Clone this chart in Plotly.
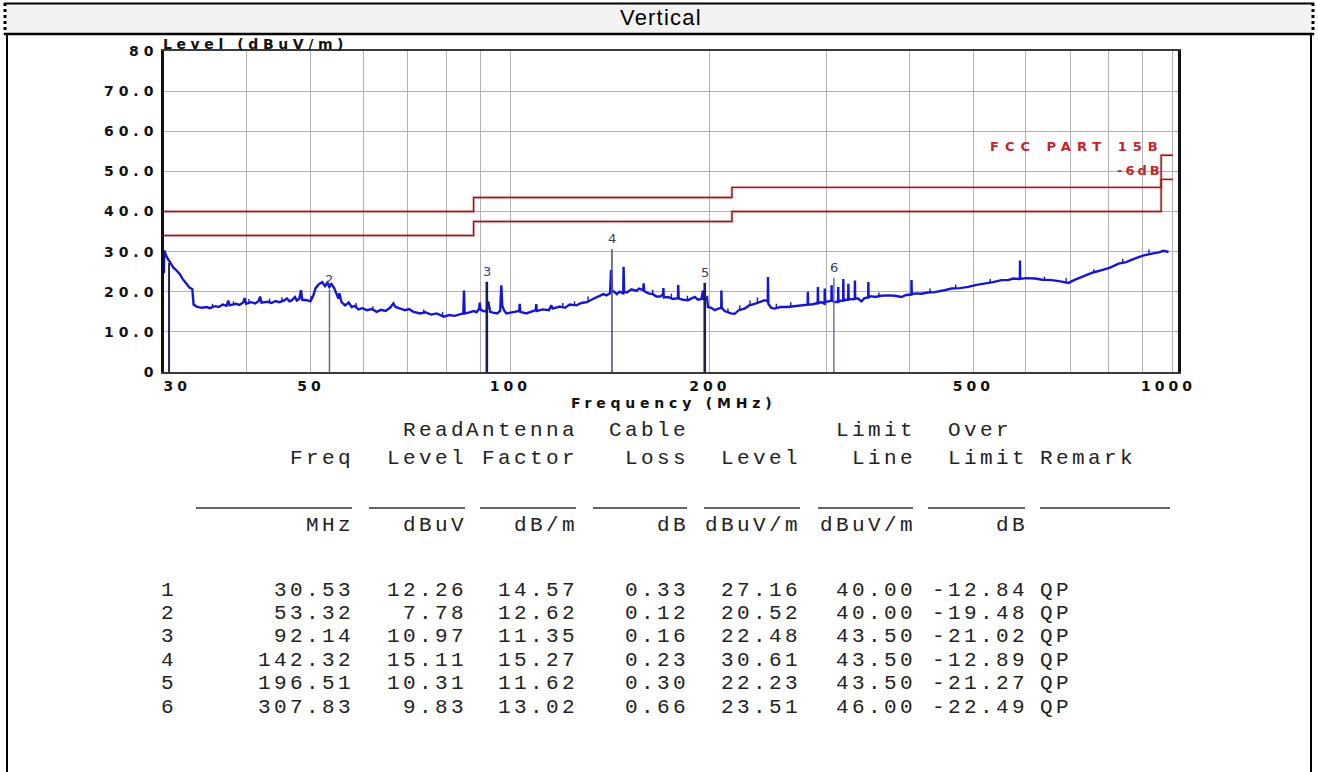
import numpy as np
import plotly.graph_objects as go

W, H = 1318, 772

# ---------------- data ----------------
trace_freq = [
    30.0, 30.02, 30.3, 30.6, 31.0, 31.3, 31.7, 32.0, 32.3, 32.6, 32.8, 33.1, 33.25, 33.6, 34.2, 34.8,
    35.2, 35.8, 36.3, 36.8, 37.3, 37.5, 37.7, 38.5, 39.0, 39.5, 39.7, 39.9, 40.6, 41.2, 41.7, 41.9,
    42.1, 43.0, 43.6, 44.2, 44.8, 45.5, 46.0, 46.4, 46.8, 47.3, 47.6, 48.0, 48.3, 48.5, 49.3, 49.9,
    50.4, 50.8, 51.4, 52.0, 52.5, 52.9, 53.3, 53.7, 54.2, 54.6, 55.0, 55.2, 55.6, 56.3, 57.0, 57.6,
    58.2, 59.0, 59.8, 60.7, 61.8, 62.8, 63.8, 64.8, 65.8, 66.6, 67.1, 68.2, 69.3, 70.3, 71.4, 73.1,
    74.4, 75.9, 77.4, 79.3, 80.9, 82.4, 83.8, 84.9, 85.1, 85.3, 86.5, 88.0, 88.9, 89.7, 89.9, 90.1,
    91.0, 92.0, 92.6, 93.2, 94.1, 95.5, 96.5, 96.9, 97.2, 97.8, 98.6, 100.1, 101.6, 103.1, 103.3,
    103.5, 105.7, 107.7, 109.2, 109.4, 109.6, 112.0, 114.3, 115.3, 115.8, 118.7, 120.9, 122.9, 125.8,
    128.0, 130.5, 133.2, 136.1, 138.2, 139.6, 141.4, 141.9, 142.4, 143.5, 144.7, 146.2, 148.0, 148.2,
    148.5, 149.9, 152.3, 154.9, 156.4, 158.7, 158.9, 159.2, 161.5, 164.1, 166.1, 168.3, 170.0, 170.2,
    170.4, 173.1, 175.8, 179.0, 179.2, 179.5, 182.3, 185.4, 187.4, 189.8, 191.9, 194.2, 195.3, 195.7,
    198.1, 198.7, 201.0, 203.4, 206.1, 208.1, 208.2, 208.5, 210.6, 213.0, 215.1, 218.0, 221.2, 225.7,
    229.4, 233.7, 237.5, 242.0, 244.6, 244.8, 245.1, 247.5, 250.5, 255.6, 262.3, 267.8, 274.7, 281.0,
    281.2, 281.5, 286.1, 291.0, 291.2, 291.5, 294.8, 298.0, 298.2, 298.5, 305.2, 305.4, 305.7, 308.7,
    312.3, 312.5, 312.8, 315.3, 317.9, 318.1, 318.4, 321.0, 323.5, 323.7, 324.0, 327.6, 331.0, 331.2,
    331.5, 334.8, 338.8, 342.4, 346.8, 347.0, 347.3, 350.5, 354.9, 362.8, 371.8, 380.2, 389.5, 395.5,
    403.0, 403.2, 403.5, 409.7, 417.5, 426.0, 437.2, 449.4, 463.3, 476.9, 490.9, 505.4, 520.3, 535.1,
    551.3, 563.7, 574.0, 584.2, 587.6, 587.8, 588.1, 599.6, 619.4, 635.3, 656.4, 676.2, 695.6, 711.9,
    737.2, 757.9, 781.3, 804.0, 827.9, 850.0, 877.5, 901.1, 929.7, 952.2, 967.6, 985.2,
]
trace_level = [
    24.6, 30.3, 28.6, 27.6, 26.0, 25.4, 24.4, 23.2, 22.4, 21.6, 21.0, 20.7, 16.8, 16.3, 16.0, 16.2,
    15.9, 16.4, 16.2, 16.8, 16.5, 17.8, 16.6, 17.0, 16.7, 17.3, 18.4, 17.0, 17.4, 17.1, 17.7, 18.8,
    17.3, 17.5, 17.2, 17.7, 17.4, 17.8, 18.3, 17.6, 17.9, 18.7, 17.8, 18.2, 20.4, 18.0, 17.9, 17.6,
    19.0, 20.9, 21.9, 22.4, 21.4, 22.2, 21.2, 21.9, 20.9, 19.6, 18.3, 19.6, 17.4, 16.6, 17.3, 16.2,
    16.5, 15.6, 15.9, 15.4, 15.7, 15.0, 15.5, 15.2, 16.0, 17.1, 16.2, 15.8, 15.4, 15.7, 15.0, 14.6,
    14.9, 14.3, 14.6, 13.8, 14.2, 14.0, 14.4, 14.6, 20.3, 14.6, 14.8, 15.2, 14.9, 15.8, 17.3, 15.6,
    15.2, 15.1, 17.6, 15.0, 14.8, 14.6, 15.2, 21.6, 16.6, 15.4, 14.6, 14.8, 15.0, 15.2, 17.0,
    15.0, 14.6, 15.0, 15.4, 16.9, 15.2, 15.6, 15.4, 16.6, 15.8, 16.3, 16.0, 16.8, 16.6,
    17.2, 17.4, 18.2, 18.8, 19.4, 19.1, 19.6, 25.4, 20.2, 20.0, 19.4, 20.0, 19.6, 26.2,
    20.0, 19.8, 20.6, 20.2, 20.8, 20.4, 22.1, 20.2, 19.6, 19.4, 18.8, 18.8, 19.4, 20.9,
    18.6, 18.7, 18.2, 18.4, 21.7, 18.3, 18.0, 17.9, 18.3, 18.7, 18.0, 18.2, 20.3, 18.0,
    18.6, 16.2, 16.0, 15.4, 15.8, 16.0, 20.3, 16.0, 15.2, 14.9, 14.6, 14.5, 15.4, 15.8,
    16.6, 17.0, 17.4, 17.9, 17.6, 23.7, 17.0, 16.0, 15.8, 16.2, 16.2, 16.4, 16.6, 16.8,
    20.0, 16.8, 16.9, 17.2, 21.2, 17.1, 17.4, 17.0, 20.8, 17.4, 17.8, 21.6, 17.8, 17.4,
    17.6, 21.2, 17.5, 17.8, 17.8, 23.2, 17.8, 18.0, 18.0, 22.0, 18.2, 18.1, 18.2, 22.8,
    18.3, 18.3, 17.6, 18.4, 18.6, 22.4, 18.6, 18.9, 18.7, 19.0, 19.1, 19.0, 18.7, 19.2,
    19.3, 22.9, 19.4, 19.6, 19.5, 19.8, 19.9, 20.3, 20.8, 20.9, 21.2, 21.7, 22.0, 22.4,
    22.9, 22.9, 23.3, 23.2, 23.4, 27.8, 23.2, 23.4, 23.3, 23.0, 22.9, 22.6, 22.2, 23.0,
    24.1, 24.8, 25.4, 26.0, 27.0, 27.4, 28.3, 29.0, 29.5, 29.8, 30.2, 29.9,
]

# small extra emission spikes: frequency, floor, top
spike_freq = [35.5, 38.2, 40.3, 43.3, 45.2, 50.0, 58.5, 62.0, 74.0, 79.0, 120.0, 125.0,
              131.0, 164.0, 175.0, 185.0, 213.0, 222.0, 230.0, 236.0, 252.0, 265.0,
              360.0, 430.0, 470.0, 530.0, 640.0, 690.0, 760.0, 840.0, 920.0]
spike_floor = [16.2, 16.8, 17.2, 17.4, 17.6, 18.0, 16.2, 15.5, 14.7, 14.0, 16.0, 16.6,
               17.6, 19.4, 18.2, 18.0, 14.9, 15.4, 16.6, 17.2, 16.0, 16.4,
               18.9, 19.9, 20.9, 22.2, 23.0, 22.5, 24.8, 27.3, 29.6]
spike_top = [17.0, 17.6, 18.2, 18.3, 18.6, 19.0, 17.2, 16.4, 15.6, 15.0, 17.2, 17.6,
             18.8, 20.5, 19.5, 19.0, 15.8, 16.6, 17.8, 18.6, 17.0, 17.4,
             19.8, 20.8, 21.8, 23.2, 23.8, 23.4, 25.6, 28.2, 30.5]

limit_freq = [30, 88, 88, 216, 216, 960, 960, 1000]
limit_level = [40, 40, 43.5, 43.5, 46, 46, 54, 54]
margin_level = [34, 34, 37.5, 37.5, 40, 40, 48, 48]

marker_no = [1, 2, 3, 4, 5, 6]
marker_freq = [30.53, 53.32, 92.14, 142.32, 196.51, 307.83]
read_level = [12.26, 7.78, 10.97, 15.11, 10.31, 9.83]
antenna_factor = [14.57, 12.62, 11.35, 15.27, 11.62, 13.02]
cable_loss = [0.33, 0.12, 0.16, 0.23, 0.30, 0.66]
meas_level = [27.16, 20.52, 22.48, 30.61, 22.23, 23.51]
limit_line = [40.00, 40.00, 43.50, 43.50, 43.50, 46.00]
over_limit = [-12.84, -19.48, -21.02, -12.89, -21.27, -22.49]
remark = ["QP", "QP", "QP", "QP", "QP", "QP"]

x_grid = [30, 40, 50, 60, 70, 80, 90, 100, 200, 300, 400, 500, 600, 700, 800, 900, 1000]
x_labels = {30: "\u00a0\u00a0\u00a030", 50: "50", 100: "100", 200: "200", 500: "500", 1000: "1000\u00a0"}
y_ticks = [0, 10, 20, 30, 40, 50, 60, 70, 80]
y_labels = ["0", "10.0", "20.0", "30.0", "40.0", "50.0", "60.0", "70.0", "80"]

header_top = ["Read", "Antenna", "Cable", "Limit", "Over"]
header_mid = ["Freq", "Level", "Factor", "Loss", "Level", "Line", "Limit"]
units = ["MHz", "dBuV", "dB/m", "dB", "dBuV/m", "dBuV/m", "dB"]

# ---------------- styles / layout positions (pixels) ----------------
def px(x):
    return x / W

def py(y):
    return 1 - y / H

def sp(t, ls):
    return "<span style='letter-spacing:%spx'>%s</span>" % (ls, t)

CHART_FONT = "DejaVu Sans"
MONO = "Liberation Mono, Courier New, monospace"
MONO_SIZE = 21
MONO_LS = 3.4
MONO_COLOR = "#222222"
col_right = [174, 351, 464, 575, 686, 798, 913, 1025]
remark_left = 1040
top_right = [464, 575, 686, 913, 1009]
row1_y, row2_y, uline_y, unit_y = 430, 458, 508, 525
data_y0, data_dy = 590, 23.4
underlines = [(196, 352), (369, 465), (480, 576), (593, 687), (704, 800), (818, 913), (928, 1025), (1040, 1170)]
marker_width = {1: 2.0, 2: 1.5, 3: 2.6, 4: 1.6, 5: 2.6, 6: 1.5}
marker_color = {1: "#26265a", 2: "#5a6690", 3: "#1d1d4f", 4: "#4a5585", 5: "#1d1d4f", 6: "#6a7498"}

fig = go.Figure()

for lv in (limit_level, margin_level):
    fig.add_trace(go.Scatter(x=limit_freq, y=lv, mode="lines",
                             line=dict(color="rgba(225,90,90,0.28)", width=3.5),
                             hoverinfo="skip", showlegend=False))
    fig.add_trace(go.Scatter(x=limit_freq, y=lv, mode="lines",
                             line=dict(color="#7a1f22", width=1.4),
                             hoverinfo="skip", showlegend=False))

fig.add_trace(go.Scatter(x=trace_freq, y=trace_level, mode="lines",
                         line=dict(color="#1616d2", width=2.4),
                         hoverinfo="skip", showlegend=False))

sx, sy = [], []
for f, lo, hi in zip(spike_freq, spike_floor, spike_top):
    sx += [f, f, None]
    sy += [lo, hi, None]
fig.add_trace(go.Scatter(x=sx, y=sy, mode="lines", line=dict(color="#1a1a9a", width=1.4),
                         hoverinfo="skip", showlegend=False))

for n, f, lv in zip(marker_no, marker_freq, meas_level):
    fig.add_trace(go.Scatter(x=[f, f], y=[0, lv], mode="lines",
                             line=dict(color=marker_color[n], width=marker_width[n]),
                             hoverinfo="skip", showlegend=False))

annotations = []

def txt(x, y, s, size, color, family, anchor="right", ls=0.0, bold=False):
    xx = x
    if anchor == "right":
        xx = x + ls
    elif anchor == "center":
        xx = x + ls / 2
    annotations.append(dict(
        x=px(xx), y=py(y), xref="paper", yref="paper", xanchor=anchor, yanchor="middle",
        text=sp(s, ls) if ls else s, showarrow=False, borderpad=0, borderwidth=0,
        font=dict(family=family, size=size, color=color, weight="bold" if bold else "normal")))

for n, f, lv in zip(marker_no, marker_freq, meas_level):
    if n == 1:
        continue
    annotations.append(dict(x=np.log10(f), y=lv, xref="x", yref="y", xanchor="center",
                            yanchor="bottom", text=str(n), showarrow=False, yshift=1,
                            font=dict(family=CHART_FONT, size=13, color="#3a3a6c")))

annotations.append(dict(x=np.log10(limit_freq[5]), y=limit_level[6], xref="x", yref="y",
                        xanchor="right", yanchor="bottom", showarrow=False, xshift=4,
                        text=sp("FCC PART 15B", 6.0), borderpad=0,
                        font=dict(family=CHART_FONT, size=13, color="#c0262b", weight="bold")))
annotations.append(dict(x=np.log10(limit_freq[5]), y=margin_level[6], xref="x", yref="y",
                        xanchor="right", yanchor="bottom", showarrow=False, xshift=3,
                        text=sp("-6dB", 3), borderpad=0,
                        font=dict(family=CHART_FONT, size=13, color="#c0262b", weight="bold")))

txt(163, 44, "Level (dBuV/m)", 14, "#111111", CHART_FONT, anchor="left", ls=4.6, bold=True)
txt(671, 403, "Frequency (MHz)", 14, "#111111", CHART_FONT, anchor="center", ls=4.8, bold=True)

txt(660, 18, "Vertical", 22, "#000000", "Liberation Sans, Arial", anchor="center", ls=1.2)

for s, xr in zip(header_top, top_right):
    txt(xr, row1_y, s, MONO_SIZE, MONO_COLOR, MONO, "right", MONO_LS)
for s, xr in zip(header_mid, col_right[1:]):
    txt(xr, row2_y, s, MONO_SIZE, MONO_COLOR, MONO, "right", MONO_LS)
txt(remark_left, row2_y, "Remark", MONO_SIZE, MONO_COLOR, MONO, "left", MONO_LS)
for s, xr in zip(units, col_right[1:]):
    txt(xr, unit_y, s, MONO_SIZE, MONO_COLOR, MONO, "right", MONO_LS)

for i in range(len(marker_no)):
    y = data_y0 + data_dy * i
    vals = [str(marker_no[i]), "%.2f" % marker_freq[i], "%.2f" % read_level[i],
            "%.2f" % antenna_factor[i], "%.2f" % cable_loss[i], "%.2f" % meas_level[i],
            "%.2f" % limit_line[i], "%.2f" % over_limit[i]]
    for s, xr in zip(vals, col_right):
        txt(xr, y, s, MONO_SIZE, MONO_COLOR, MONO, "right", MONO_LS)
    txt(remark_left, y, remark[i], MONO_SIZE, MONO_COLOR, MONO, "left", MONO_LS)

shapes = []
for x0, x1 in underlines:
    shapes.append(dict(type="line", xref="paper", yref="paper", x0=px(x0), x1=px(x1),
                       y0=py(uline_y), y1=py(uline_y), line=dict(color="#333333", width=1.3)))

shapes += [
    dict(type="rect", xref="paper", yref="paper", x0=px(6), x1=px(1312), y0=py(33), y1=py(4),
         fillcolor="#f2f2f2", line=dict(width=0), layer="below"),
    dict(type="line", xref="paper", yref="paper", x0=px(4), x1=px(1314), y0=py(3.5), y1=py(3.5),
         line=dict(color="#000000", width=2)),
    dict(type="line", xref="paper", yref="paper", x0=px(4), x1=px(1314), y0=py(34), y1=py(34),
         line=dict(color="#000000", width=2.5)),
    dict(type="line", xref="paper", yref="paper", x0=px(5), x1=px(5), y0=py(3), y1=py(34),
         line=dict(color="#000000", width=3, dash="dot")),
    dict(type="line", xref="paper", yref="paper", x0=px(1313), x1=px(1313), y0=py(3), y1=py(34),
         line=dict(color="#000000", width=3, dash="dot")),
    dict(type="line", xref="paper", yref="paper", x0=px(7), x1=px(7), y0=py(34), y1=py(772),
         line=dict(color="#000000", width=2)),
    dict(type="line", xref="paper", yref="paper", x0=px(1311), x1=px(1311), y0=py(34), y1=py(772),
         line=dict(color="#000000", width=2)),
]

x_ticktext = [sp(x_labels[v], 4) if v in x_labels else "" for v in x_grid]
y_ticktext = [sp(t, 5) for t in y_labels]

fig.update_layout(
    width=W, height=H, autosize=False,
    margin=dict(l=0, r=0, t=0, b=0, pad=0, autoexpand=False),
    paper_bgcolor="white", plot_bgcolor="white", showlegend=False,
    annotations=annotations, shapes=shapes,
    xaxis=dict(type="log", range=[np.log10(30), np.log10(1018)], domain=[px(164), px(1178)],
               tickmode="array", tickvals=x_grid, ticktext=x_ticktext, automargin=False,
               showgrid=True, gridcolor="#b2b2b2", gridwidth=1.4, zeroline=False,
               showline=True, linecolor="#3a3a3a", linewidth=2, mirror=True, ticks="",
               ticklabelstandoff=0,
               tickfont=dict(family=CHART_FONT, size=14, color="#111111", weight="bold")),
    yaxis=dict(range=[0, 80], domain=[py(372), py(51)], tickmode="array",
               tickvals=y_ticks, ticktext=y_ticktext, automargin=False,
               showgrid=True, gridcolor="#b2b2b2", gridwidth=1.4, zeroline=False,
               showline=True, linecolor="#111111", linewidth=2.5, mirror=True, ticks="",
               ticklabelstandoff=0,
               tickfont=dict(family=CHART_FONT, size=14, color="#111111", weight="bold")),
)

fig.write_html("out.html", config={"displayModeBar": False},
               post_script="document.body.style.margin='0';document.body.style.overflow='hidden';")
